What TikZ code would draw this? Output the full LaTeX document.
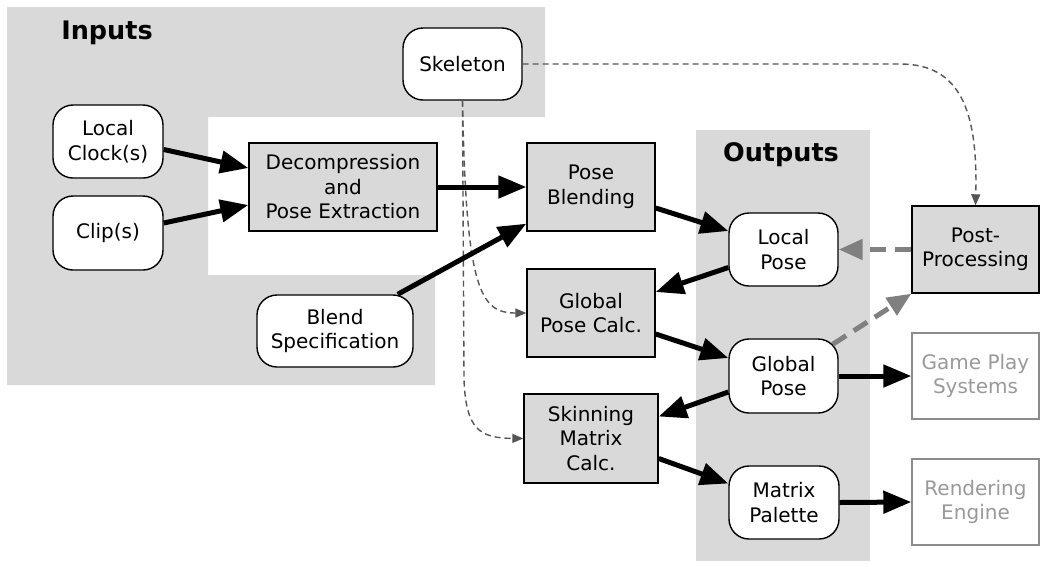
\documentclass[tikz,border=0pt]{standalone}
\usepackage{fontspec}
\setmainfont{DejaVu Sans}
\usetikzlibrary{arrows.meta}
\definecolor{regiongray}{HTML}{D9D9D9}
\definecolor{boxgray}{HTML}{D9D9D9}
\definecolor{dashgray}{HTML}{555555}
\definecolor{postgray}{HTML}{808080}
\definecolor{extgray}{HTML}{999999}
\definecolor{extborder}{HTML}{8C8C8C}
\begin{document}
\begin{tikzpicture}[x=1pt,y=-1pt,
  base/.style={inner sep=0pt, align=center, font=\fontsize{20}{24.5}\selectfont, line width=1.4pt},
  rbox/.style={base, draw=black, fill=white, rounded corners=20pt},
  gbox/.style={base, draw=black, fill=boxgray},
  ebox/.style={base, draw=extborder, text=extgray},
  heading/.style={inner sep=0pt, font=\fontsize{25.5}{30}\selectfont\bfseries},
  flow/.style={line width=5pt, -{Triangle[length=28pt,width=22pt]}},
  feedback/.style={line width=5pt, draw=postgray, dash pattern=on 16pt off 9pt, -{Triangle[length=24pt,width=20pt]}},
  skelline/.style={line width=1.4pt, draw=dashgray, dash pattern=on 6pt off 4pt, -{Triangle[length=11pt,width=9pt]}}
]
\useasboundingbox (0,0) rectangle (1041,563);
% regions
\fill[regiongray] (7,7) -- (545,7) -- (545,117) -- (208,117) -- (208,275) -- (435,275) -- (435,385) -- (7,385) -- cycle;
\fill[regiongray] (696,130) rectangle (870,561);
\node[heading] (inlabel) at (107,33) {Inputs};
\node[heading] (outlabel) at (781,155) {Outputs};

% nodes
\node[rbox, minimum width=110pt, minimum height=73pt] (clock) at (108,141.5) {Local\\Clock(s)};
\node[rbox, minimum width=110pt, minimum height=74pt] (clip) at (108,233) {Clip(s)};
\node[gbox, minimum width=188pt, minimum height=88pt] (decomp) at (343,187) {Decompression\\and\\Pose Extraction};
\node[rbox, minimum width=119pt, minimum height=72pt] (skel) at (462.5,64) {Skeleton};
\node[rbox, minimum width=156pt, minimum height=72pt] (blend) at (335,331) {Blend\\Specification};
\node[gbox, minimum width=128pt, minimum height=88pt] (poseblend) at (591,187) {Pose\\Blending};
\node[gbox, minimum width=128pt, minimum height=88pt] (gpc) at (591,313) {Global\\Pose Calc.};
\node[gbox, minimum width=134pt, minimum height=89pt] (skin) at (591,438.5) {Skinning\\Matrix\\Calc.};
\node[rbox, minimum width=109pt, minimum height=73pt] (localpose) at (783.5,249.5) {Local\\Pose};
\node[rbox, minimum width=109pt, minimum height=74pt] (globalpose) at (783.5,376) {Global\\Pose};
\node[rbox, minimum width=110pt, minimum height=73pt] (matrix) at (784,502.5) {Matrix\\Palette};
\node[gbox, minimum width=127pt, minimum height=87pt] (post) at (975.5,249.5) {Post-\\Processing};
\node[ebox, minimum width=127pt, minimum height=86pt] (game) at (975.5,376) {Game Play\\Systems};
\node[ebox, minimum width=127pt, minimum height=86pt] (render) at (975.5,502) {Rendering\\Engine};

% skeleton dashed connectors
\coordinate (skelbend) at (900,64);
\coordinate (skindrop) at (464,380);
\draw[skelline] (skel.east) -- (skelbend) .. controls (960,64) and (978,110) .. (post.north);
\draw[skelline] (skel.south) .. controls (466,290) and (480,313) .. (gpc.west);
\draw[skelline] (skel.south) -- (skindrop) .. controls (466,430) and (480,438) .. (skin.west);

% main flow
\draw[flow] ([yshift=-8pt]clock.east) -- ([yshift=19pt]decomp.west);
\draw[flow] ([yshift=10pt]clip.east) -- ([yshift=-18pt]decomp.west);
\draw[flow] (decomp.east) -- (poseblend.west);
\draw[flow] ([xshift=-16pt]blend.north east) -- ([yshift=8pt]poseblend.south west);
\draw[flow] ([yshift=-21pt]poseblend.east) -- ([yshift=18.5pt]localpose.west);
\draw[flow] ([yshift=-18pt]localpose.west) -- ([yshift=21pt]gpc.east);
\draw[flow] ([yshift=-21pt]gpc.east) -- ([yshift=18pt]globalpose.west);
\draw[flow] ([yshift=-16pt]globalpose.west) -- ([yshift=22pt]skin.east);
\draw[flow] ([yshift=-20pt]skin.east) -- ([yshift=19pt]matrix.west);
\draw[flow] (globalpose.east) -- (game.west);
\draw[flow] (matrix.east) -- (render.west);

% post-processing feedback
\draw[feedback] (post.west) -- (localpose.east);
\draw[feedback] ([xshift=-6pt,yshift=-6pt]globalpose.north east) -- (post.south west);
\end{tikzpicture}
\end{document}
